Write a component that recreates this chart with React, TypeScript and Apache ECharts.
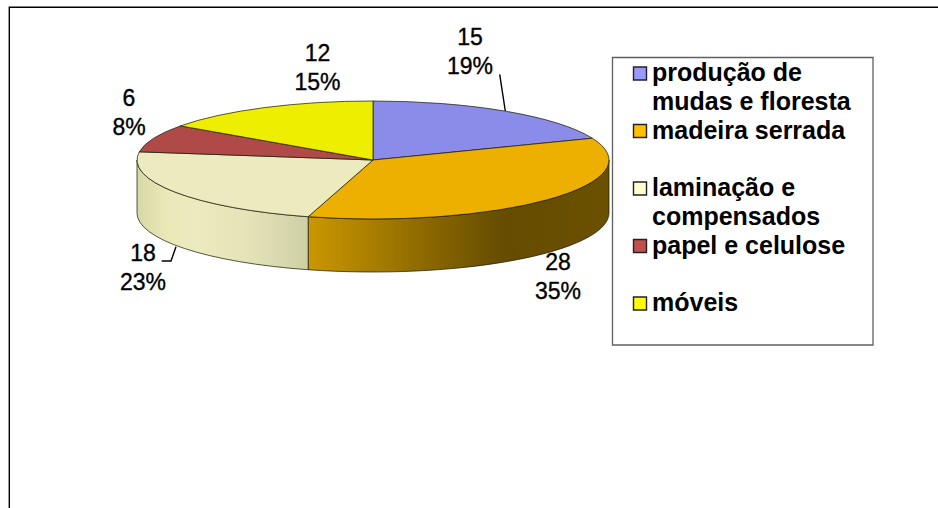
import React, { useEffect, useRef } from "react";
import * as echarts from "echarts";

// Output of the forestry chain by segment
const categories = [
  "produção de\nmudas e floresta",
  "madeira serrada",
  "laminação e\ncompensados",
  "papel e celulose",
  "móveis",
];
const values = [15, 28, 18, 6, 12];
const percents = [19, 35, 23, 8, 15];

const topColors = ["#8b8be9", "#eeb000", "#ecebbf", "#b04a48", "#eeee00"];
const legendColors = ["#9999ff", "#ffc000", "#ffffcc", "#c0504d", "#ffff00"];

// Disc geometry, in pixels
const CX = 373;
const CY = 160;
const RX = 236;
const RY = 59;
const DEPTH = 53;

const labelCentres: number[][] = [
  [470, 51],
  [558, 276.5],
  [143, 267.5],
  [129, 112],
  [317.5, 67],
];
const leaders: (number[][] | null)[] = [
  [[499.7, 74.3], [505.3, 111]],
  null,
  [[161.7, 261], [171, 261], [176, 246.7]],
  null,
  null,
];

// Left-to-right shading of the visible rim
const sideGradients: Record<number, { offset: number; color: string }[]> = {
  1: [
    { offset: 0, color: "#cb9700" },
    { offset: 0.2, color: "#ab8000" },
    { offset: 0.4, color: "#8a6700" },
    { offset: 0.65, color: "#654c00" },
    { offset: 1, color: "#6b5000" },
  ],
  2: [
    { offset: 0, color: "#d8d8a6" },
    { offset: 0.17, color: "#e8e8b8" },
    { offset: 0.35, color: "#ecebc0" },
    { offset: 0.65, color: "#e4e3b8" },
    { offset: 1, color: "#cfcfa6" },
  ],
};

const EDGE = "rgba(25,25,5,0.8)";
const FONT = "'Liberation Sans', Arial, sans-serif";

const rad = (deg: number) => (deg * Math.PI) / 180;
const px = (deg: number) => CX + RX * Math.sin(rad(deg));
const py = (deg: number) => CY - RY * Math.cos(rad(deg));

const total = values.reduce((a, b) => a + b, 0);
const startAngle = (i: number) =>
  (values.slice(0, i).reduce((a, b) => a + b, 0) / total) * 360;

function topPath(a: number, b: number) {
  const large = b - a > 180 ? 1 : 0;
  return `M${CX} ${CY}L${px(a)} ${py(a)}A${RX} ${RY} 0 ${large} 1 ${px(b)} ${py(b)}Z`;
}

function sidePath(a: number, b: number) {
  return (
    `M${px(a)} ${py(a)}A${RX} ${RY} 0 0 1 ${px(b)} ${py(b)}` +
    `L${px(b)} ${py(b) + DEPTH}A${RX} ${RY} 0 0 0 ${px(a)} ${py(a) + DEPTH}Z`
  );
}

const renderSlice = (params: any, api: any) => {
  const i = params.dataIndex;
  const value = api.value(0);
  const a = startAngle(i);
  const b = a + (value / total) * 360;
  const children: any[] = [];

  // Rim of the disc: only the part facing the viewer is visible
  const sa = Math.max(a, 90);
  const sb = Math.min(b, 270);
  if (sb > sa && sideGradients[i]) {
    children.push({
      type: "path",
      shape: { pathData: sidePath(sa, sb) },
      style: {
        fill: new echarts.graphic.LinearGradient(0, 0, 1, 0, sideGradients[i]),
        stroke: EDGE,
        lineWidth: 0.9,
      },
    });
  }

  children.push({
    type: "path",
    shape: { pathData: topPath(a, b) },
    style: { fill: topColors[i], stroke: EDGE, lineWidth: 0.9 },
  });

  const leader = leaders[i];
  if (leader) {
    children.push({
      type: "polyline",
      shape: { points: leader },
      style: { fill: "none", stroke: "#000", lineWidth: 1.4 },
    });
  }

  const [lx, ly] = labelCentres[i];
  children.push({
    type: "text",
    style: {
      text: `${value}\n${percents[i]}%`,
      x: lx,
      y: ly,
      align: "center",
      verticalAlign: "middle",
      fontFamily: FONT,
      fontSize: 23,
      lineHeight: 29,
      fill: "#000",
      stroke: "#000",
      lineWidth: 0.35,
    },
  });

  return { type: "group", children };
};

// Legend box with evenly spaced rows, icon beside each entry's first line
const LEGEND_TOP = 73.5;
const LEGEND_STEP = 57.5;
const legendGraphics: any[] = [
  {
    type: "rect",
    shape: { x: 612.5, y: 57.5, width: 260.5, height: 287.5 },
    style: { fill: "#fff", stroke: "#5f5f5f", lineWidth: 1.3 },
  },
  ...categories.flatMap((name, i) => [
    {
      type: "rect",
      shape: { x: 633.5, y: LEGEND_TOP + i * LEGEND_STEP - 6.5, width: 13, height: 13 },
      style: { fill: legendColors[i], stroke: "#222", lineWidth: 1.4 },
    },
    {
      type: "text",
      x: 652,
      y: LEGEND_TOP + i * LEGEND_STEP - 16,
      style: {
        text: name,
        fontFamily: FONT,
        fontSize: 25,
        fontWeight: "bold",
        lineHeight: 29,
        fill: "#000",
        verticalAlign: "top",
      },
    },
  ]),
];

export default function App() {
  const ref = useRef<HTMLDivElement>(null);

  useEffect(() => {
    document.body.style.margin = "0";
    const chart = echarts.init(ref.current!, undefined, { renderer: "svg" });
    chart.setOption({
      animation: false,
      backgroundColor: "#fff",
      graphic: [
        {
          type: "polyline",
          shape: { points: [[9.3, 508], [9.3, 7.3], [938, 7.3]] },
          style: { fill: "none", stroke: "#000", lineWidth: 1.4 },
        },
        ...legendGraphics,
      ],
      series: [
        {
          type: "custom",
          coordinateSystem: "none",
          renderItem: renderSlice,
          data: values.map((v, i) => ({ name: categories[i], value: [v] })),
          silent: true,
          clip: false,
        },
      ],
    });
    return () => chart.dispose();
  }, []);

  return <div ref={ref} style={{ width: 938, height: 508 }} />;
}
